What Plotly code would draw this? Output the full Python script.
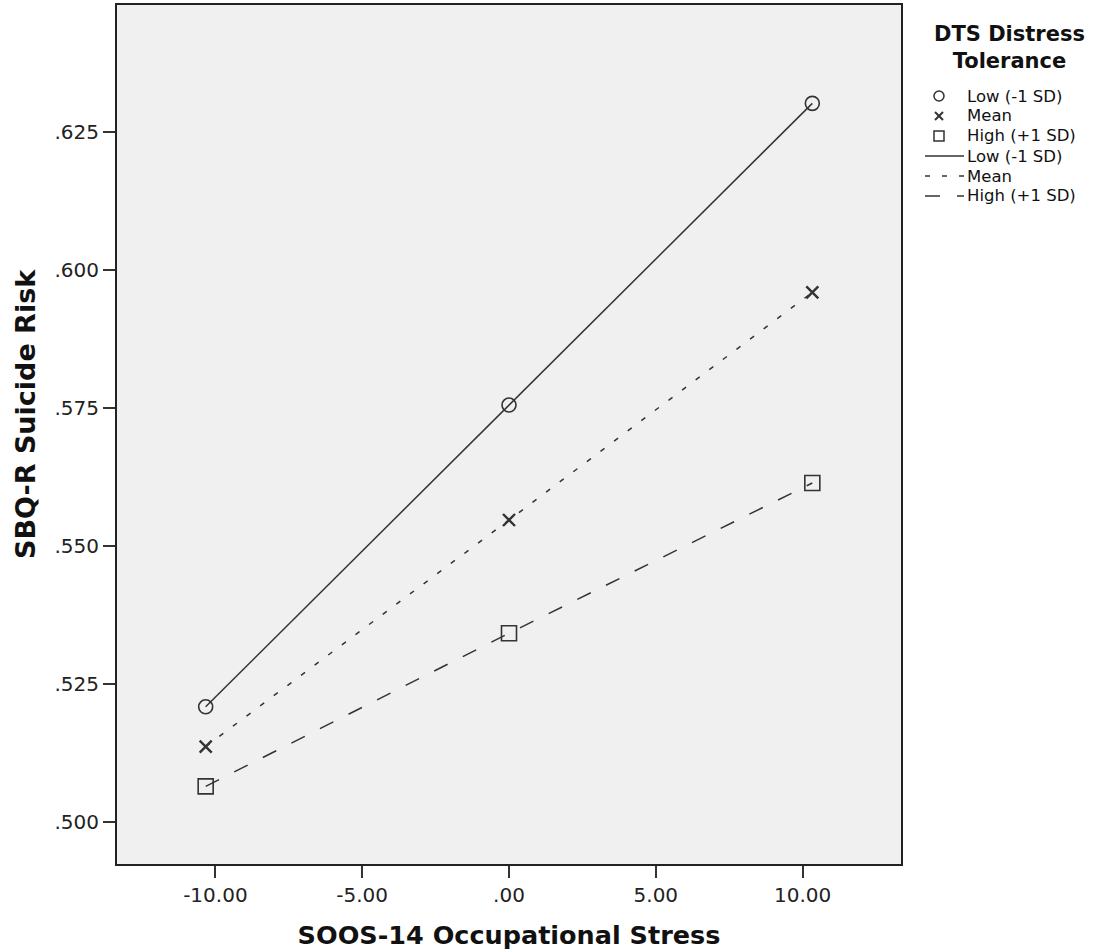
import plotly.graph_objects as go

stress = [-10.33, 0.0, 10.33]
low_vals = [0.5209, 0.5755, 0.6301]
mean_vals = [0.5137, 0.5547, 0.5959]
high_vals = [0.5065, 0.5342, 0.5614]
group_names = ["Low (-1 SD)", "Mean", "High (+1 SD)"]
legend_title = "DTS Distress<br>Tolerance"
x_title = "SOOS-14 Occupational Stress"
y_title = "SBQ-R Suicide Risk"
x_tickvals = [-10, -5, 0, 5, 10]
x_ticktext = ["-10.00", "-5.00", ".00", "5.00", "10.00"]
y_tickvals = [0.500, 0.525, 0.550, 0.575, 0.600, 0.625]
y_ticktext = [".500", ".525", ".550", ".575", ".600", ".625"]

series = [low_vals, mean_vals, high_vals]
symbols = ["circle-open", "x-thin-open", "square-open"]
sizes = [14, 12, 15]
dashes = ["solid", "5px,12px", "15px,17px"]
ink = "#333333"
font_family = "DejaVu Sans"

W, H = 1100, 952
ML, MR, MT, MB = 117, 199, 5, 88
PW, PH = W - ML - MR, H - MT - MB


def pxx(x):
    return (x - ML) / PW


def pxy(y):
    return (H - MB - y) / PH


fig = go.Figure()
for name, vals, sym, sz in zip(group_names, series, symbols, sizes):
    fig.add_trace(go.Scatter(
        x=stress, y=vals, mode="markers", name=name, showlegend=False,
        marker=dict(symbol=sym, size=sz, color=ink,
                    line=dict(color=ink, width=2.4 if sym.startswith("x") else 1.6)),
    ))
for name, vals, dsh in zip(group_names, series, dashes):
    fig.add_trace(go.Scatter(
        x=stress, y=vals, mode="lines", name=name, showlegend=False,
        line=dict(color=ink, width=1.5, dash=dsh),
    ))

# ---- legend (drawn in the right margin) ----
annotations = []
shapes = []
annotations.append(dict(
    text="<b>" + legend_title + "</b>", xref="paper", yref="paper",
    x=pxx(1009), y=pxy(48), xanchor="center", yanchor="middle",
    showarrow=False, align="center",
    font=dict(family=font_family, size=21, color="#111111"),
))
entry_y = [96, 116, 136, 156, 176, 196]
text_x = 966
for i, name in enumerate(group_names + group_names):
    annotations.append(dict(
        text=name, xref="paper", yref="paper",
        x=pxx(text_x), y=pxy(entry_y[i]), xanchor="left", yanchor="middle",
        showarrow=False, borderpad=0,
        font=dict(family=font_family, size=16.5, color="#111111"),
    ))
# marker keys
mx = 939
cy = entry_y[0]
shapes.append(dict(type="circle", xref="paper", yref="paper",
                   x0=pxx(mx - 5), x1=pxx(mx + 5), y0=pxy(cy + 5), y1=pxy(cy - 5),
                   line=dict(color=ink, width=1.5)))
cy = entry_y[1]
for a, b in [(-4, -4), (-4, 4)]:
    shapes.append(dict(type="line", xref="paper", yref="paper",
                       x0=pxx(mx + a), x1=pxx(mx - a), y0=pxy(cy + b), y1=pxy(cy - b),
                       line=dict(color=ink, width=2)))
cy = entry_y[2]
shapes.append(dict(type="rect", xref="paper", yref="paper",
                   x0=pxx(mx - 5), x1=pxx(mx + 5), y0=pxy(cy + 5), y1=pxy(cy - 5),
                   line=dict(color=ink, width=1.5)))
# line keys
for i, dsh in enumerate(dashes):
    cy = entry_y[3 + i]
    shapes.append(dict(type="line", xref="paper", yref="paper",
                       x0=pxx(925), x1=pxx(964), y0=pxy(cy), y1=pxy(cy),
                       line=dict(color=ink, width=1.5, dash=dsh)))

# y-axis title as annotation (positioned like the reference)
annotations.append(dict(
    text="<b>" + y_title + "</b>", xref="paper", yref="paper",
    x=pxx(25), y=pxy(414), xanchor="center", yanchor="middle",
    textangle=-90, showarrow=False,
    font=dict(family=font_family, size=27, color="#111111"),
))

fig.update_layout(
    width=W, height=H,
    margin=dict(l=ML, r=MR, t=MT, b=MB, autoexpand=False),
    paper_bgcolor="white",
    plot_bgcolor="#f0f0f0",
    font=dict(family=font_family, color="#222222"),
    showlegend=False,
    annotations=annotations,
    shapes=shapes,
    xaxis=dict(
        range=[-13.35, 13.35],
        tickvals=x_tickvals, ticktext=x_ticktext,
        tickfont=dict(size=20),
        ticks="outside", ticklen=12, tickwidth=2, tickcolor="#333333",
        showline=True, linecolor="#222222", linewidth=2, mirror=True,
        showgrid=False, zeroline=False,
        title=dict(text="<b>" + x_title + "</b>", font=dict(size=25.5, color="#111111"), standoff=20),
    ),
    yaxis=dict(
        range=[0.49245, 0.6479],
        tickvals=y_tickvals, ticktext=y_ticktext,
        tickfont=dict(size=20),
        ticks="outside", ticklen=12, tickwidth=2, tickcolor="#333333",
        showline=True, linecolor="#222222", linewidth=2, mirror=True,
        showgrid=False, zeroline=False,
    ),
)

fig.write_html("out.html", config={"displayModeBar": False},
               post_script="document.body.style.margin='0';")
